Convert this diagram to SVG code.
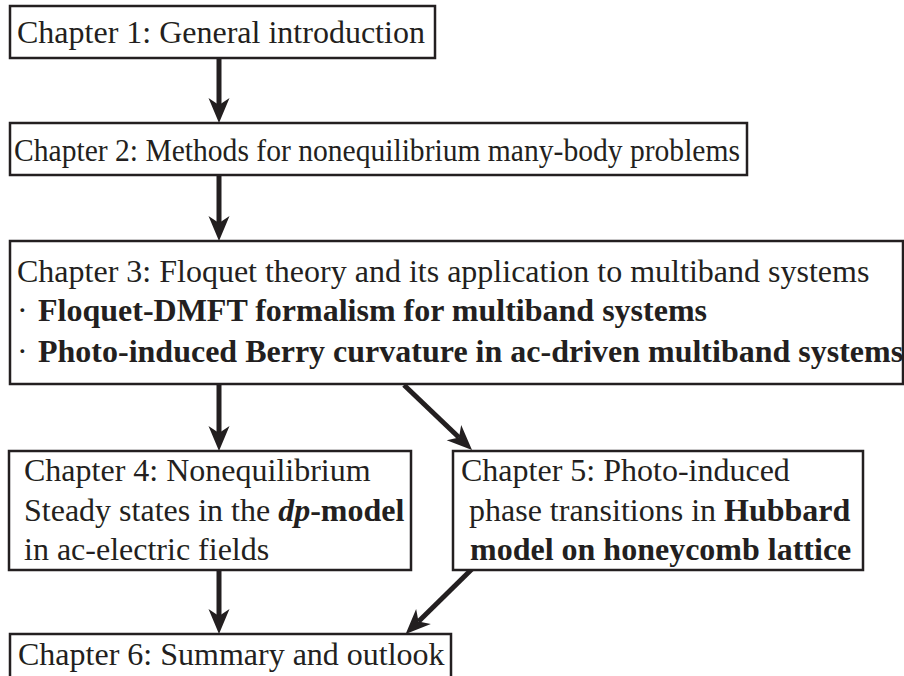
<svg xmlns="http://www.w3.org/2000/svg" width="904" height="676" viewBox="0 0 904 676">
<style>
  .box { fill: #ffffff; stroke: #231f20; stroke-width: 2.5; }
  .t { font-family: "Liberation Serif", "Times New Roman", serif; font-size: 32px; fill: #231f20; }
  .b { font-weight: bold; }
  .bi { font-weight: bold; font-style: italic; }
  .conn { stroke: #231f20; stroke-width: 5; fill: none; marker-end: url(#ah); }
</style>
<defs>
  <marker id="ah" markerUnits="userSpaceOnUse" markerWidth="26" markerHeight="22" refX="7" refY="11" orient="auto" overflow="visible">
    <path d="M25,11 L0,0.5 L7,11 L0,21.5 Z" fill="#231f20"/>
  </marker>
</defs>
<rect width="904" height="676" fill="#ffffff"/>
<g id="connectors">
  <line class="conn" x1="219" y1="58" x2="219" y2="105"/>
  <line class="conn" x1="219" y1="175" x2="219" y2="223"/>
  <line class="conn" x1="219" y1="385" x2="219" y2="433"/>
  <line class="conn" x1="404" y1="385" x2="459" y2="437.5"/>
  <line class="conn" x1="219" y1="570" x2="219" y2="616"/>
  <line class="conn" x1="473" y1="568" x2="418.5" y2="621.5"/>
</g>
<g id="ch1">
  <rect class="box" x="10" y="6" width="425" height="52"/>
  <text class="t" x="17" y="43">Chapter 1: General introduction</text>
</g>
<g id="ch2">
  <rect class="box" x="10" y="123" width="737" height="52"/>
  <text class="t" x="14" y="161" textLength="726" lengthAdjust="spacingAndGlyphs">Chapter 2: Methods for nonequilibrium many-body problems</text>
</g>
<g id="ch3">
  <rect class="box" x="10" y="241" width="893" height="143"/>
  <text class="t" x="17" y="282">Chapter 3: Floquet theory and its application to multiband systems</text>
  <text class="t" x="17" y="321">·<tspan class="b" x="38">Floquet-DMFT formalism for multiband systems</tspan></text>
  <text class="t" x="17" y="362">·<tspan class="b" x="38">Photo-induced Berry curvature in ac-driven multiband systems</tspan></text>
</g>
<g id="ch4">
  <rect class="box" x="9" y="451" width="402" height="119"/>
  <text class="t" x="24" y="481">Chapter 4: Nonequilibrium</text>
  <text class="t" x="24" y="521">Steady states in the <tspan class="bi">dp</tspan><tspan class="b">-model</tspan></text>
  <text class="t" x="24" y="560">in ac-electric fields</text>
</g>
<g id="ch5">
  <rect class="box" x="453" y="451" width="410" height="119"/>
  <text class="t" x="461" y="481">Chapter 5: Photo-induced</text>
  <text class="t" x="469" y="521">phase transitions in <tspan class="b">Hubbard</tspan></text>
  <text class="t b" x="470" y="560">model on honeycomb lattice</text>
</g>
<g id="ch6">
  <rect class="box" x="10" y="634" width="441" height="50"/>
  <text class="t" x="18" y="665">Chapter 6: Summary and outlook</text>
</g>
</svg>
